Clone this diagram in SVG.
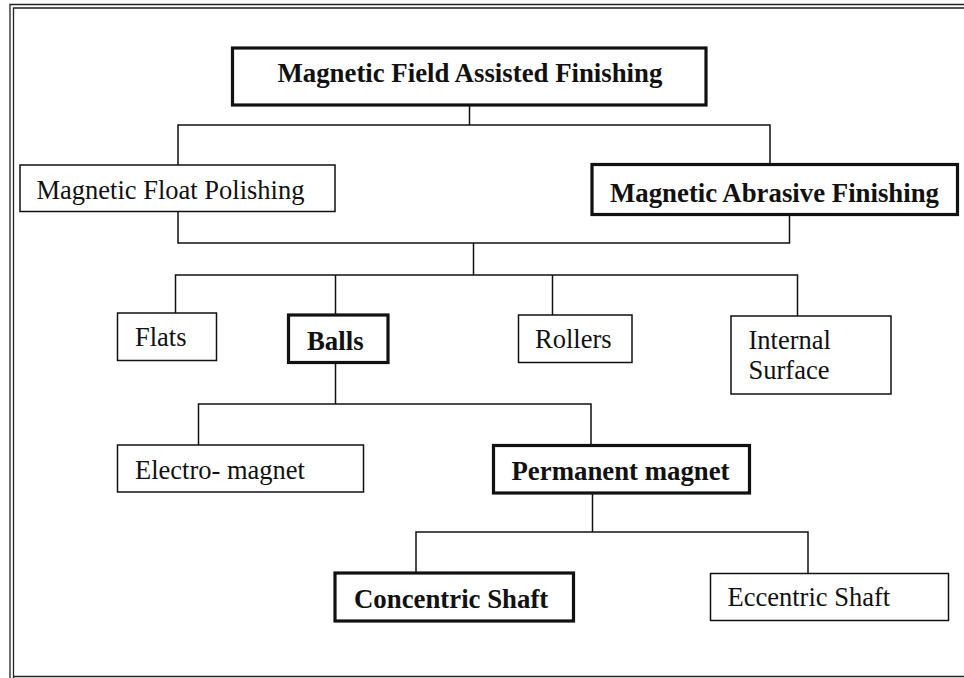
<svg xmlns="http://www.w3.org/2000/svg" width="964" height="678" viewBox="0 0 964 678">
  <style>
    .box { fill: #fff; stroke: #111; stroke-width: 1.5; }
    .box.key { stroke-width: 3.2; }
    .lbl { font-family: "Liberation Serif", "Times New Roman", serif; font-size: 26.5px; fill: #111; }
    .lbl.b { font-weight: bold; font-size: 26.8px; }
    .wire { fill: none; stroke: #111; stroke-width: 1.5; }
    .frame { fill: none; stroke: #222; stroke-width: 1.3; }
  </style>
  <rect width="964" height="678" fill="#fff"/>

  <!-- page frame -->
  <g id="frame">
    <path class="frame" d="M10,678 V4.5 H964"/>
    <path class="frame" d="M13.5,678 V8 H964"/>
    <path class="frame" d="M13.5,676.5 H964" stroke-width="2"/>
  </g>

  <!-- connectors -->
  <g id="connectors" class="wire">
    <path d="M469.5,105 V125 M178,165 V125 H770 V164"/>
    <path d="M178,211.5 V243 H789.5 V214"/>
    <path d="M473.5,243 V275 M175.5,313 V275 H797.5 V316 M335.5,275 V314 M552.5,275 V315"/>
    <path d="M335.5,363 V404 M198.5,445 V404 H591 V445"/>
    <path d="M592.5,493 V532 M416,572 V532 H808 V573"/>
  </g>

  <g id="n-mfaf">
    <rect class="box key" x="232.5" y="48" width="473.5" height="57"/>
    <text class="lbl b" x="277.5" y="82">Magnetic Field Assisted Finishing</text>
  </g>
  <g id="n-mfp">
    <rect class="box" x="20" y="165" width="315" height="46.5"/>
    <text class="lbl" x="36.5" y="199">Magnetic Float Polishing</text>
  </g>
  <g id="n-maf">
    <rect class="box key" x="592" y="164.5" width="365.5" height="50"/>
    <text class="lbl b" x="610" y="201.5">Magnetic Abrasive Finishing</text>
  </g>
  <g id="n-flats">
    <rect class="box" x="117.5" y="313" width="99" height="47.5"/>
    <text class="lbl" x="135" y="346">Flats</text>
  </g>
  <g id="n-balls">
    <rect class="box key" x="288.5" y="315" width="99.5" height="47.5"/>
    <text class="lbl b" x="307" y="350">Balls</text>
  </g>
  <g id="n-rollers">
    <rect class="box" x="518.5" y="315" width="113.5" height="47.5"/>
    <text class="lbl" x="535" y="347.5">Rollers</text>
  </g>
  <g id="n-internal">
    <rect class="box" x="731" y="316" width="160" height="78"/>
    <text class="lbl" x="748.5" y="348.5">Internal</text>
    <text class="lbl" x="748.5" y="379">Surface</text>
  </g>
  <g id="n-electro">
    <rect class="box" x="117.5" y="445" width="246" height="47"/>
    <text class="lbl" x="135" y="478.5">Electro- magnet</text>
  </g>
  <g id="n-permanent">
    <rect class="box key" x="493.5" y="445.5" width="256" height="47.5"/>
    <text class="lbl b" x="511.5" y="480">Permanent magnet</text>
  </g>
  <g id="n-concentric">
    <rect class="box key" x="335" y="573" width="238.5" height="48"/>
    <text class="lbl b" x="354" y="607.5">Concentric Shaft</text>
  </g>
  <g id="n-eccentric">
    <rect class="box" x="710.5" y="573.5" width="238" height="47"/>
    <text class="lbl" x="727.5" y="606">Eccentric Shaft</text>
  </g>
</svg>
